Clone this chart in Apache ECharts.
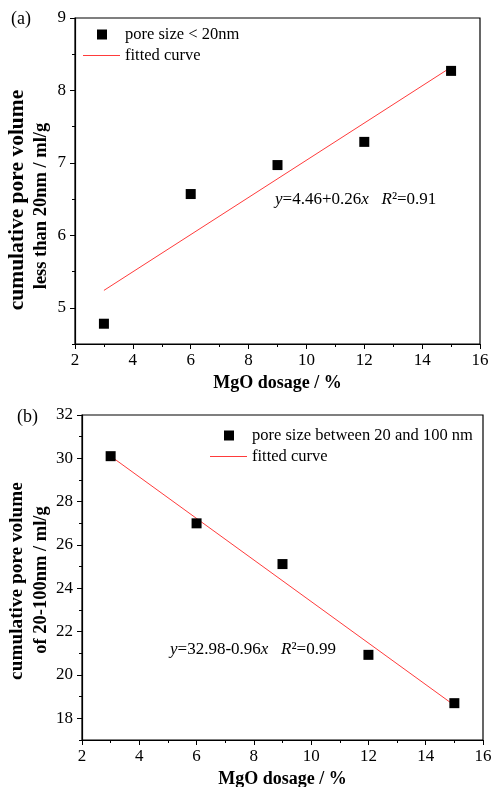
<!DOCTYPE html>
<html><head><meta charset="utf-8">
<script src="https://cdn.jsdelivr.net/npm/echarts@6/dist/echarts.min.js"></script>
<style>html,body{margin:0;padding:0;background:#fff}#c{width:493px;height:787px}</style>
</head><body><div id="c"></div>
<script>
// Panel (a)
const dosageA = [3, 6, 9, 12, 15];
const volumeA = [4.78, 6.57, 6.97, 7.29, 8.27];
const fitXA = [3, 15];
const fitYA = [5.24, 8.32];
const yTicksA = [5, 6, 7, 8, 9];
const yMinorA = [4.5, 5.5, 6.5, 7.5, 8.5];
const yNameA = ['cumulative pore volume', 'less than 20nm / ml/g'];
// Panel (b)
const dosageB = [3, 6, 9, 12, 15];
const volumeB = [30.1, 27.0, 25.12, 20.93, 18.7];
const fitXB = [3, 15];
const fitYB = [30.1, 18.6];
const yTicksB = [18, 20, 22, 24, 26, 28, 30, 32];
const yMinorB = [17, 19, 21, 23, 25, 27, 29, 31];
const yNameB = ['cumulative pore volume', 'of 20-100nm / ml/g'];

const FONT = '"Liberation Serif","Times New Roman",serif';
const black = '#000';
const red = '#ff3b3b';

function pairs(xs, ys){ return xs.map((x,i)=>[x, ys[i]]); }

function xAx(gi, gap){
  return {
    gridIndex: gi, type:'value', min:2, max:16, interval:2,
    name:'MgO dosage / %', nameLocation:'middle', nameGap:gap,
    nameTextStyle:{fontFamily:FONT, fontSize:18, fontWeight:'bold', color:black},
    axisLine:{show:true, onZero:false, lineStyle:{color:black, width:1.2}},
    axisTick:{show:true, inside:false, length:5, lineStyle:{color:black}},
    minorTick:{show:true, splitNumber:2, length:3, lineStyle:{color:black}},
    axisLabel:{fontFamily:FONT, fontSize:17, color:black, margin:8},
    splitLine:{show:false}
  };
}
function yAx(gi, min, max, ticks){
  return {
    gridIndex: gi, type:'value', min:min, max:max, position:'left',
    axisLine:{show:true, onZero:false, lineStyle:{color:black, width:1.2}},
    axisTick:{show:true, inside:false, length:5, customValues:ticks, lineStyle:{color:black}},
    axisLabel:{fontFamily:FONT, fontSize:17, color:black, margin:9, customValues:ticks},
    splitLine:{show:false}
  };
}
function yMinor(gi, min, max, ticks){
  return {
    gridIndex: gi, type:'value', min:min, max:max, position:'left',
    axisLine:{show:false, onZero:false},
    axisTick:{show:true, inside:false, length:3, customValues:ticks, lineStyle:{color:black}},
    axisLabel:{show:false, customValues:ticks},
    splitLine:{show:false}
  };
}
function vText(txt, x, y, size){
  return {type:'text', x:x, y:y, rotation:Math.PI/2, style:{
    text:txt, font:'bold '+size+'px '+FONT, fill:black, align:'center', verticalAlign:'middle'}};
}
function eqText(txt, left, top){
  return {type:'text', left:left, top:top, style:{
    text:txt, font:'17px '+FONT, fill:black,
    rich:{i:{fontStyle:'italic', fontFamily:FONT, fontSize:17, fill:black}}}};
}
const legText = {fontFamily:FONT, fontSize:16.5, color:black};
const ptStyle = {color:black, opacity:1, borderWidth:0};

const chart = echarts.init(document.getElementById('c'), null, {renderer:'canvas'});
chart.setOption({
  animation:false,
  backgroundColor:'#fff',
  grid:[
    {left:75, right:13, top:18, height:326, show:true, borderColor:black, borderWidth:1.2, backgroundColor:'transparent', containLabel:false, outerBoundsMode:'none'},
    {left:82, right:10, top:415, height:325, show:true, borderColor:black, borderWidth:1.2, backgroundColor:'transparent', containLabel:false, outerBoundsMode:'none'}
  ],
  xAxis:[xAx(0, 30), xAx(1, 30)],
  yAxis:[
    yAx(0, 4.5, 9, yTicksA),
    yAx(1, 17, 32, yTicksB),
    yMinor(0, 4.5, 9, yMinorA),
    yMinor(1, 17, 32, yMinorB)
  ],
  legend:[
    {left:97, top:26, padding:0, itemWidth:10, itemHeight:10, textStyle:Object.assign({padding:[0,0,0,13]}, legText),
     itemStyle:{color:black, opacity:1},
     data:[{name:'pore size < 20nm', icon:'rect'}]},
    {left:83, top:47, padding:0, itemWidth:37, itemHeight:1, textStyle:legText,
     itemStyle:{color:red, opacity:1},
     data:[{name:'fitted curve', icon:'rect'}]},
    {left:224, top:427, padding:0, itemWidth:10, itemHeight:10, textStyle:Object.assign({padding:[0,0,0,13]}, legText),
     itemStyle:{color:black, opacity:1},
     data:[{name:'pore size between 20 and 100 nm', icon:'rect'}]},
    {left:210, top:448, padding:0, itemWidth:37, itemHeight:1, textStyle:legText,
     itemStyle:{color:red, opacity:1},
     data:[{name:'fitted curve ', icon:'rect'}]}
  ],
  series:[
    {name:'fitted curve', type:'line', xAxisIndex:0, yAxisIndex:0, data:pairs(fitXA, fitYA),
     symbol:'none', lineStyle:{color:red, width:1}, itemStyle:{color:red}, z:2},
    {name:'pore size < 20nm', type:'scatter', xAxisIndex:0, yAxisIndex:0, data:pairs(dosageA, volumeA),
     symbol:'rect', symbolSize:10, itemStyle:ptStyle, z:3},
    {name:'fitted curve ', type:'line', xAxisIndex:1, yAxisIndex:1, data:pairs(fitXB, fitYB),
     symbol:'none', lineStyle:{color:red, width:1}, itemStyle:{color:red}, z:2},
    {name:'pore size between 20 and 100 nm', type:'scatter', xAxisIndex:1, yAxisIndex:1, data:pairs(dosageB, volumeB),
     symbol:'rect', symbolSize:10, itemStyle:ptStyle, z:3}
  ],
  graphic:[
    {type:'text', left:11, top:10, style:{text:'(a)', font:'18px '+FONT, fill:black}},
    {type:'text', left:17, top:408, style:{text:'(b)', font:'18px '+FONT, fill:black}},
    vText(yNameA[0], 17, 200, 21.5),
    vText(yNameA[1], 41, 206, 18.5),
    vText(yNameB[0], 17, 581, 19.3),
    vText(yNameB[1], 41, 580, 18.5),
    eqText('{i|y}=4.46+0.26{i|x}   {i|R}²=0.91', 275, 191),
    eqText('{i|y}=32.98-0.96{i|x}   {i|R}²=0.99', 170, 641)
  ]
});
</script></body></html>
